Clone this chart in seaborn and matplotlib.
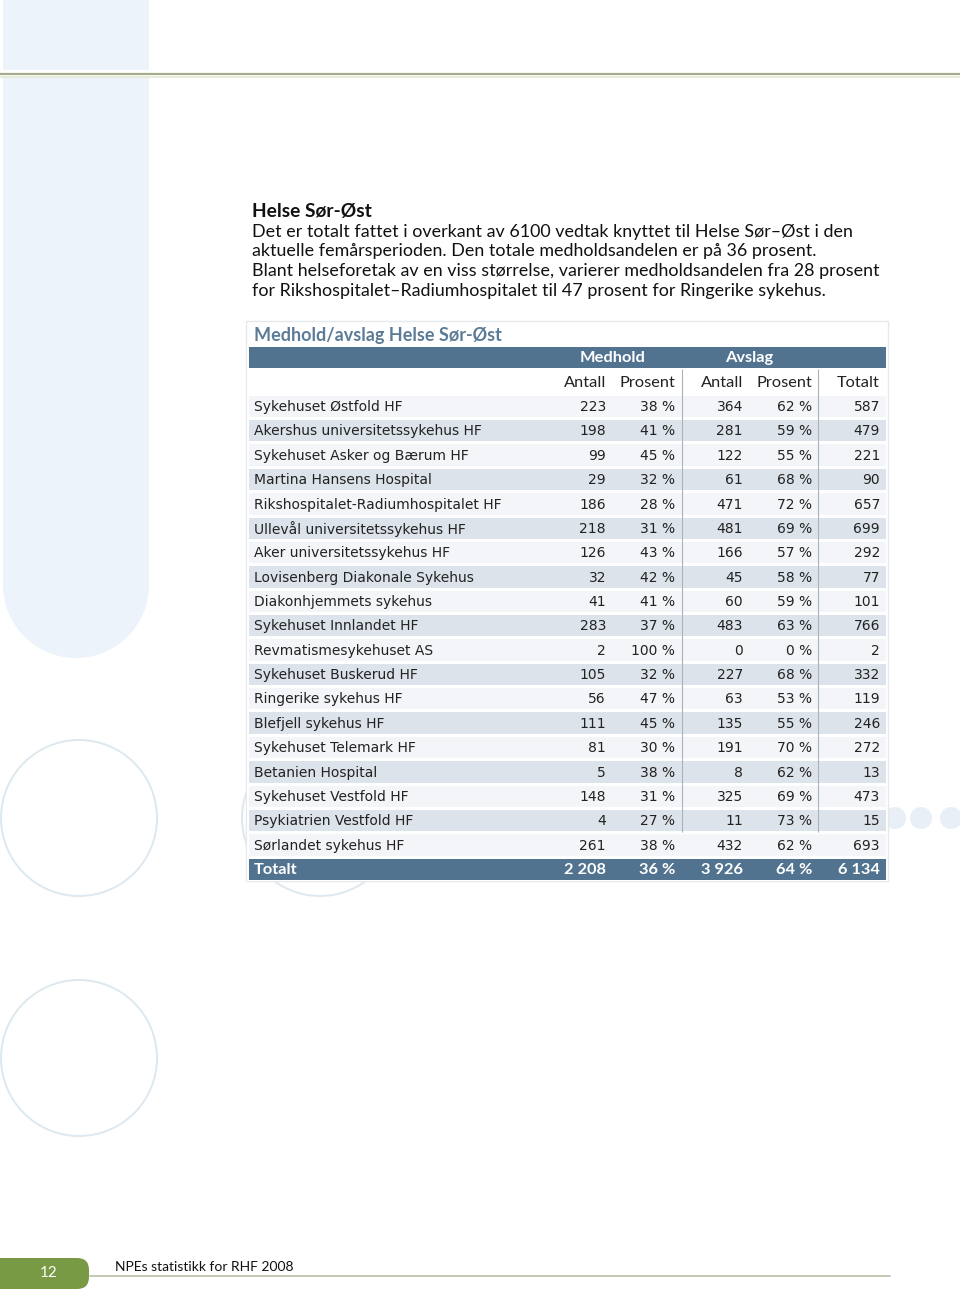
import numpy as np
import matplotlib
matplotlib.use("Agg")
import matplotlib.pyplot as plt
from matplotlib.colors import ListedColormap
from matplotlib.patches import Rectangle, Circle, FancyBboxPatch
import seaborn as sns

# ---- data ----
hospitals = [
    "Sykehuset Østfold HF", "Akershus universitetssykehus HF", "Sykehuset Asker og Bærum HF",
    "Martina Hansens Hospital", "Rikshospitalet-Radiumhospitalet HF", "Ullevål universitetssykehus HF",
    "Aker universitetssykehus HF", "Lovisenberg Diakonale Sykehus", "Diakonhjemmets sykehus",
    "Sykehuset Innlandet HF", "Revmatismesykehuset AS", "Sykehuset Buskerud HF",
    "Ringerike sykehus HF", "Blefjell sykehus HF", "Sykehuset Telemark HF", "Betanien Hospital",
    "Sykehuset Vestfold HF", "Psykiatrien Vestfold HF", "Sørlandet sykehus HF",
]
medhold_antall = [223, 198, 99, 29, 186, 218, 126, 32, 41, 283, 2, 105, 56, 111, 81, 5, 148, 4, 261]
medhold_pct = [38, 41, 45, 32, 28, 31, 43, 42, 41, 37, 100, 32, 47, 45, 30, 38, 31, 27, 38]
avslag_antall = [364, 281, 122, 61, 471, 481, 166, 45, 60, 483, 0, 227, 63, 135, 191, 8, 325, 11, 432]
avslag_pct = [62, 59, 55, 68, 72, 69, 57, 58, 59, 63, 0, 68, 53, 55, 70, 62, 69, 73, 62]
totalt = [587, 479, 221, 90, 657, 699, 292, 77, 101, 766, 2, 332, 119, 246, 272, 13, 473, 15, 693]
sum_row = ["2 208", "36 %", "3 926", "64 %", "6 134"]

group_headers = ["Medhold", "Avslag"]
sub_headers = ["Antall", "Prosent", "Antall", "Prosent", "Totalt"]

heading = "Helse Sør-Øst"
paragraph = [
    "Det er totalt fattet i overkant av 6100 vedtak knyttet til Helse Sør–Øst i den",
    "aktuelle femårsperioden. Den totale medholdsandelen er på 36 prosent.",
    "Blant helseforetak av en viss størrelse, varierer medholdsandelen fra 28 prosent",
    "for Rikshospitalet–Radiumhospitalet til 47 prosent for Ringerike sykehus.",
]
table_title = "Medhold/avslag Helse Sør-Øst"

# ---- style ----
sns.set_theme(style="white")
plt.rcParams["font.family"] = ["DejaVu Sans"]

DARK = "#52738f"
STRIPE_A = "#f3f5f8"
STRIPE_B = "#dde3ea"
PALE = "#edf3fa"
RING = "#dde8ef"
TEXT = "#222222"

W, H = 960, 1295
fig = plt.figure(figsize=(W / 100, H / 100), dpi=100)
ax = fig.add_axes([0, 0, 1, 1])
ax.set_xlim(0, W)
ax.set_ylim(H, 0)
ax.axis("off")

# page decorations
ax.add_patch(Rectangle((3, 0), 146, 585, color=PALE, lw=0, zorder=0))
ax.add_patch(Circle((76, 585), 73, color=PALE, lw=0, zorder=0))
ax.add_patch(Rectangle((0, 70), 160, 8, color="white", lw=0, zorder=1))
ax.plot([0, W], [74, 74], color="#a6ad8c", lw=1.6, zorder=2)
ax.plot([0, W], [76.5, 76.5], color="#e3e9d3", lw=1.2, zorder=2)
for cx, cy in [(79, 818), (79, 1058), (320, 818)]:
    ax.add_patch(Circle((cx, cy), 78, fill=False, ec=RING, lw=1.4, zorder=1))
for cx in [895, 921, 951]:
    ax.add_patch(Circle((cx, 818), 11, color="#e9eff7", lw=0, zorder=1))

# intro text
ax.text(252, 211.5, heading, fontsize=13.8, fontweight="bold", family="Lato",
        color="#111111", va="center")
for i, line in enumerate(paragraph):
    ax.text(252, 231.5 + i * 19.7, line, fontsize=12.85, family="Lato",
            color="#111111", va="center")

# table frame
x0, x1 = 247, 887
ax.add_patch(Rectangle((x0 - 1, 321), x1 - x0 + 2, 560, fc="white",
                       ec="#e6e9ec", lw=1, zorder=3))
ax.text(254, 335, table_title, fontsize=13, family="Lato", fontweight="bold",
        color="#5b7b97", va="center", zorder=4)

# table body as a heatmap of row shades
n = len(hospitals)
shade = [0, 1] + [2 + (i % 2) for i in range(n)] + [0]
tax = fig.add_axes([x0 / W, 1 - 881 / H, (x1 - x0) / W, (881 - 345) / H])
sns.heatmap(np.array(shade)[:, None], ax=tax, cbar=False,
            cmap=ListedColormap([DARK, "white", STRIPE_A, STRIPE_B]),
            vmin=-0.5, vmax=3.5, linewidths=0.8, linecolor="white",
            xticklabels=False, yticklabels=False)
tax.set_zorder(5)


def fx(px):
    return (px - x0) / (x1 - x0)


col_right = [606, 675, 743, 812, 880]
for px in [682, 818]:
    tax.vlines(fx(px), 1, 1 + n + 1 - 1, color="#a9b3be", lw=0.8)

tax.text(fx(613), 0.55, group_headers[0], color="white", fontsize=11.8, family="Lato",
         fontweight="bold", ha="center", va="center")
tax.text(fx(749), 0.55, group_headers[1], color="white", fontsize=11.8, family="Lato",
         fontweight="bold", ha="center", va="center")
for px, lab in zip(col_right, sub_headers):
    tax.text(fx(px), 1.55, lab, color=TEXT, fontsize=11.8, family="Lato",
             ha="right", va="center")

for i, name in enumerate(hospitals):
    y = 2.55 + i
    vals = [str(medhold_antall[i]), f"{medhold_pct[i]} %", str(avslag_antall[i]),
            f"{avslag_pct[i]} %", str(totalt[i])]
    tax.text(fx(254), y, name, color=TEXT, fontsize=10, ha="left", va="center")
    for px, v in zip(col_right, vals):
        tax.text(fx(px), y, v, color=TEXT, fontsize=10, ha="right", va="center")

ty = 2.55 + n
tax.text(fx(254), ty, "Totalt", color="white", fontsize=11.8, family="Lato",
         fontweight="bold", ha="left", va="center")
for px, v in zip(col_right, sum_row):
    tax.text(fx(px), ty, v, color="white", fontsize=11.8, family="Lato",
             fontweight="bold", ha="right", va="center")

# footer
ax.add_patch(FancyBboxPatch((-20, 1258), 109, 31, boxstyle="round,pad=0,rounding_size=12",
                            fc="#789a44", ec="none", zorder=3))
ax.text(49, 1273, "12", color="white", fontsize=11, family="Lato", ha="center",
        va="center", zorder=4)
ax.text(115, 1267, "NPEs statistikk for RHF 2008", color="#111111", fontsize=10,
        family="Lato", va="center", zorder=4)
ax.plot([90, 890], [1276, 1276], color="#b9bfa4", lw=1.2, zorder=2)

fig.savefig("out.png", dpi=100)
